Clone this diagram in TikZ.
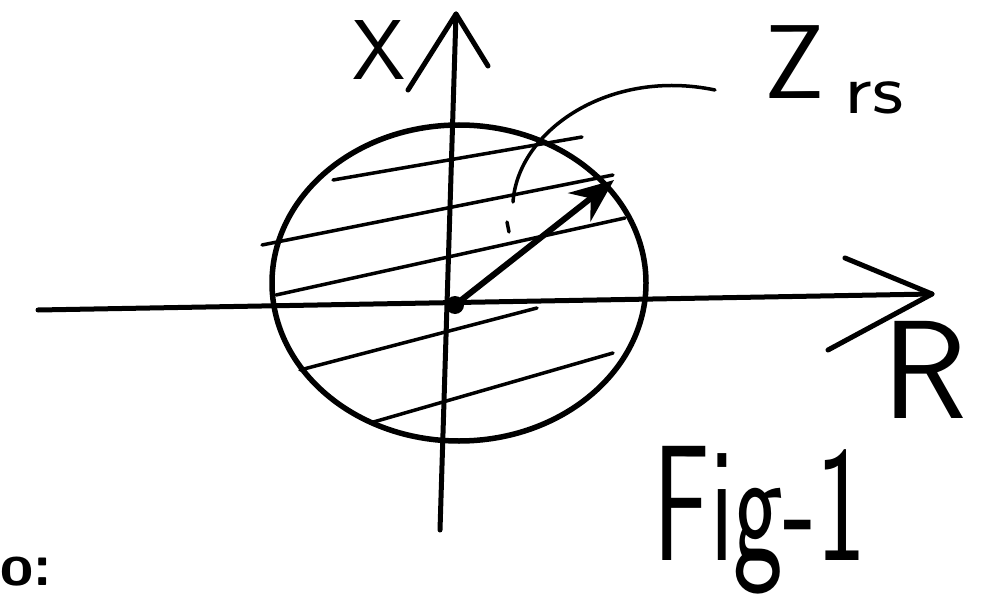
\documentclass[tikz,border=0pt]{standalone}
\usetikzlibrary{arrows.meta}
\begin{document}
\begin{tikzpicture}[x=1pt,y=-1pt,line cap=round,line join=round,
  ink/.style={line width=5pt,black},
  hatch/.style={line width=3.5pt,black},
  lbl/.style={inner sep=0pt,font=\sffamily}]
\useasboundingbox (0,0) rectangle (985,599);
% axes
\coordinate (O) at (455,305);
\coordinate (hl) at (38,310);
\coordinate (hr) at (932,294);
\coordinate (vb) at (440,530);
\coordinate (vt) at (456,14);
\draw[ink] (hl) -- (hr);
\draw[ink] (845,258) -- (hr) -- (828,350);
\draw[ink] (vb) -- (vt);
\draw[ink] (408,90) -- (vt) -- (488,66);
% disc
\draw[line width=5.5pt] (459,283) ellipse [x radius=187, y radius=158];
% hatching
\draw[hatch] (333,180) -- (582,137);
\draw[hatch] (262,245) -- (613,175);
\draw[hatch] (276,295) -- (625,218);
\draw[hatch] (300,370) -- (537,308);
\draw[hatch] (370,423) -- (613,353);
% vector Z_rs
\draw[line width=6pt,-{Stealth[length=44pt,width=36pt]}] (O) -- (614,180);
\fill (O) circle (9);
\draw[line width=3.5pt] (507,222) -- (509,232);
% leader curve and labels
\coordinate (c1) at (513,202);
\coordinate (c2) at (715,90);
\draw[line width=3.5pt] (c1) .. controls (518,130) and (610,68) .. (c2);
\node[lbl,font=\sffamily\fontsize{85}{85}\selectfont] (xl) at (379,50) {X};
\node[lbl,font=\sffamily\fontsize{105}{105}\selectfont] (zl) at (795,62) {Z};
\node[lbl,font=\sffamily\fontsize{72}{72}\selectfont,xscale=1.2] (zs) at (874,98) {rs};
\node[lbl,font=\sffamily\fontsize{140}{140}\selectfont] (rl) at (925,370) {R};
\node[lbl,font=\sffamily\fontsize{165}{165}\selectfont,xscale=0.64] (fig) at (760,520) {Fig-1};
\node[lbl,anchor=west,font=\sffamily\bfseries\fontsize{60}{60}\selectfont] (ol) at (0,572) {o:};
\end{tikzpicture}
\end{document}
